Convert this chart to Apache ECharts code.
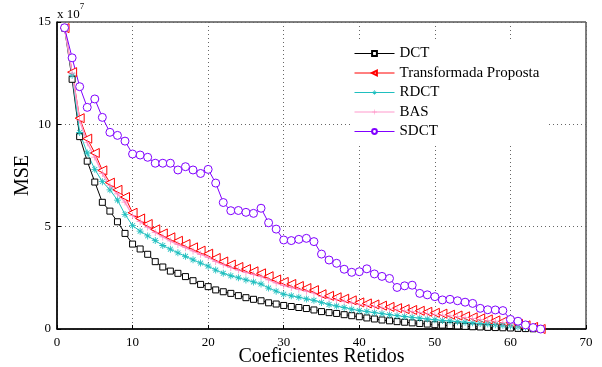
<!DOCTYPE html>
<html>
<head>
<meta charset="utf-8">
<script src="https://cdn.jsdelivr.net/npm/echarts@6/dist/echarts.min.js"></script>
<style>html,body{margin:0;padding:0;background:#fff}#c{width:602px;height:367px}</style>
</head>
<body>
<div id="c"></div>
<script>
// Values in units of 10^7 (as shown by the axis multiplier)
var xs = [];
for (var i = 1; i <= 64; i++) xs.push(i);
var xTicks = [0, 10, 20, 30, 40, 50, 60, 70];
var yTicks = [0, 5, 10, 15];

var dct = [14.7,12.2,9.4,8.2,7.18,6.19,5.76,5.24,4.67,4.15,3.91,3.65,3.29,3.03,2.83,2.72,2.56,2.36,2.18,2.07,1.91,1.82,1.74,1.63,1.53,1.45,1.38,1.28,1.22,1.15,1.1,1.05,1.0,0.93,0.85,0.8,0.76,0.7,0.65,0.6,0.54,0.49,0.44,0.4,0.36,0.33,0.3,0.27,0.24,0.21,0.19,0.17,0.15,0.13,0.11,0.1,0.08,0.07,0.06,0.05,0.03,0.02,0.01,0];
var proposta = [14.7,12.55,10.3,9.3,8.6,7.75,7.15,6.8,6.45,5.68,5.4,5.13,4.87,4.67,4.48,4.31,4.15,3.99,3.83,3.68,3.47,3.3,3.15,3.03,2.93,2.82,2.72,2.58,2.42,2.3,2.2,2.1,2.0,1.9,1.7,1.62,1.55,1.48,1.4,1.3,1.25,1.2,1.14,1.08,1.02,0.97,0.93,0.89,0.84,0.79,0.75,0.7,0.66,0.62,0.57,0.52,0.47,0.42,0.37,0.31,0.25,0.18,0.1,0];
var rdct = [14.7,12.4,9.6,8.6,7.8,7.2,6.8,6.3,5.6,5.05,4.78,4.55,4.32,4.08,3.9,3.72,3.55,3.38,3.22,3.07,2.88,2.72,2.6,2.5,2.4,2.3,2.2,2.0,1.85,1.7,1.62,1.55,1.47,1.4,1.3,1.2,1.12,1.05,0.97,0.9,0.85,0.8,0.75,0.7,0.65,0.61,0.57,0.53,0.49,0.45,0.42,0.39,0.36,0.33,0.3,0.27,0.24,0.21,0.18,0.15,0.11,0.08,0.04,0];
var bas = [14.7,12.5,10.2,9.1,8.4,7.6,7.0,6.6,6.2,5.55,5.25,4.98,4.72,4.5,4.3,4.13,3.97,3.81,3.65,3.5,3.3,3.14,3.0,2.88,2.77,2.66,2.56,2.4,2.25,2.12,2.03,1.94,1.85,1.76,1.58,1.5,1.43,1.36,1.28,1.2,1.15,1.1,1.05,0.99,0.94,0.89,0.85,0.81,0.77,0.72,0.68,0.64,0.6,0.56,0.52,0.47,0.42,0.38,0.33,0.28,0.22,0.16,0.09,0];
var sdct = [14.72,13.25,11.84,10.83,11.24,10.34,9.61,9.46,9.18,8.55,8.5,8.39,8.1,8.1,8.1,7.77,7.93,7.77,7.6,7.8,7.13,6.18,5.78,5.79,5.7,5.65,5.9,5.19,4.88,4.35,4.32,4.38,4.43,4.27,3.66,3.37,3.21,2.92,2.77,2.8,2.94,2.69,2.57,2.47,2.03,2.11,2.14,1.74,1.67,1.58,1.42,1.45,1.38,1.31,1.25,1.01,0.94,0.93,0.9,0.47,0.38,0.2,0.07,0];

var names = ['DCT', 'Transformada Proposta', 'RDCT', 'BAS', 'SDCT'];

function pairs(arr) { return arr.map(function (v, k) { return [xs[k], v]; }); }

var FONT = 'Liberation Serif';
var asterisk = 'path://M-0.6,-5L0.6,-5L0.6,5L-0.6,5Z M-5,-0.6L5,-0.6L5,0.6L-5,0.6Z M-3.9,-3.1L-3.1,-3.9L3.9,3.1L3.1,3.9Z M3.1,-3.9L3.9,-3.1L-3.1,3.9L-3.9,3.1Z';
var plus = 'path://M-0.5,-5L0.5,-5L0.5,5L-0.5,5Z M-5,-0.5L5,-0.5L5,0.5L-5,0.5Z';

var chart = echarts.init(document.getElementById('c'), null, {renderer: 'canvas'});
chart.setOption({
  animation: false,
  backgroundColor: '#fff',
  grid: {left: 57, top: 22, right: 16, bottom: 38, show: true, borderColor: '#000', borderWidth: 1,
    backgroundColor: 'transparent', containLabel: false, outerBoundsMode: 'none'},
  graphic: [{
    type: 'text', left: 57, top: 2,
    style: {
      text: '{a|x 10}{b|7}',
      rich: {
        a: {fontFamily: FONT, fontSize: 13, fill: '#000', padding: [6, 0, 0, 0]},
        b: {fontFamily: FONT, fontSize: 9, fill: '#000', verticalAlign: 'top', padding: [0, 0, 0, 0]}
      }
    }
  }],
  legend: {
    orient: 'vertical', left: 350, top: 42,
    padding: [4, 8, 4, 4],
    backgroundColor: '#fff',
    itemWidth: 40, itemHeight: 6, itemGap: 4.5,
    lineStyle: {width: 1},
    textStyle: {fontFamily: FONT, fontSize: 15, color: '#000'},
    data: names
  },
  xAxis: {
    type: 'value', min: 0, max: 70, interval: 10,
    name: 'Coeficientes Retidos', nameLocation: 'middle', nameGap: 18, nameMoveOverlap: false,
    nameTextStyle: {fontFamily: FONT, fontSize: 20, color: '#000'},
    axisLine: {show: true, onZero: false, lineStyle: {color: '#000', width: 1.5}},
    axisTick: {inside: true, length: 4, lineStyle: {color: '#000'}},
    axisLabel: {fontFamily: FONT, fontSize: 13, color: '#000', margin: 7,
      formatter: function (v) { return xTicks.indexOf(v) >= 0 ? String(v) : ''; }},
    splitLine: {show: true, lineStyle: {color: '#666', type: [1, 3], width: 1}}
  },
  yAxis: {
    type: 'value', min: 0, max: 15, interval: 5,
    name: 'MSE', nameLocation: 'middle', nameGap: 24, nameRotate: 90, nameMoveOverlap: false,
    nameTextStyle: {fontFamily: FONT, fontSize: 20, color: '#000'},
    axisLine: {show: true, lineStyle: {color: '#000', width: 1.5}},
    axisTick: {show: true, inside: true, length: 4, lineStyle: {color: '#000'}},
    axisLabel: {fontFamily: FONT, fontSize: 13, color: '#000', margin: 6,
      formatter: function (v) { return yTicks.indexOf(v) >= 0 ? String(v) : ''; }},
    splitLine: {show: true, lineStyle: {color: '#666', type: [1, 3], width: 1}}
  },
  series: [
    {name: names[0], type: 'line', data: pairs(dct), symbol: 'rect', symbolSize: 6,
      lineStyle: {color: '#000', width: 1}, itemStyle: {color: '#fff', borderColor: '#000', borderWidth: 1}},
    {name: names[1], type: 'line', data: pairs(proposta), symbol: 'triangle', symbolRotate: 90, symbolSize: 9,
      lineStyle: {color: '#ff0000', width: 1}, itemStyle: {color: '#fff', borderColor: '#ff0000', borderWidth: 1}},
    {name: names[2], type: 'line', data: pairs(rdct), symbol: asterisk, symbolSize: 7,
      lineStyle: {color: '#1fbfbf', width: 1}, itemStyle: {color: '#1fbfbf'}},
    {name: names[3], type: 'line', data: pairs(bas), symbol: plus, symbolSize: 7,
      lineStyle: {color: '#ff99cc', width: 1.5}, itemStyle: {color: '#ff88c0'}},
    {name: names[4], type: 'line', data: pairs(sdct), symbol: 'circle', symbolSize: 8,
      lineStyle: {color: '#8000ff', width: 1}, itemStyle: {color: '#fff', borderColor: '#8000ff', borderWidth: 1}}
  ]
});
</script>
</body>
</html>
